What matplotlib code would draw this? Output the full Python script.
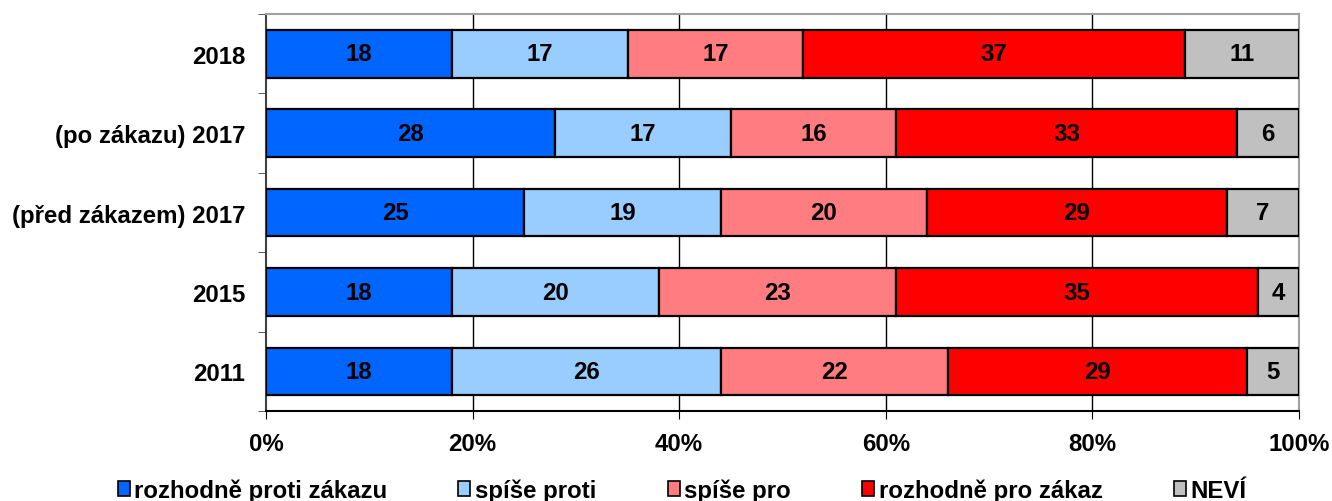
import numpy as np
import matplotlib
matplotlib.use('Agg')
import matplotlib.pyplot as plt
from matplotlib.patches import Patch

# --- dados ---
kategorie = ['2018', '(po zákazu) 2017', '(před zákazem) 2017', '2015', '2011']
serie = ['rozhodně proti zákazu', 'spíše proti', 'spíše pro', 'rozhodně pro zákaz', 'NEVÍ']
rozhodne_proti = [18, 28, 25, 18, 18]
spise_proti = [17, 17, 19, 20, 26]
spise_pro = [17, 16, 20, 23, 22]
rozhodne_pro = [37, 33, 29, 35, 29]
nevi = [11, 6, 7, 4, 5]
barvy = ['#0066FF', '#99CCFF', '#FF7C80', '#FF0000', '#C0C0C0']

hodnoty = [rozhodne_proti, spise_proti, spise_pro, rozhodne_pro, nevi]

plt.rcParams['font.family'] = ['Liberation Sans', 'DejaVu Sans']
plt.rcParams['font.weight'] = 'bold'
fs = 17.3

fig = plt.figure(figsize=(13.32, 5.02), dpi=100)
ax = fig.add_axes([0.1997, 0.179, 0.9752 - 0.1997, 0.970 - 0.179])

y = np.arange(len(kategorie))
vlevo = np.zeros(len(kategorie))
for vals, barva in zip(hodnoty, barvy):
    vals = np.array(vals, dtype=float)
    ax.barh(y, vals, left=vlevo, height=0.6, color=barva, edgecolor='black',
            linewidth=1.6, zorder=3)
    for yi, l, v in zip(y, vlevo, vals):
        ax.text(l + v / 2, yi, f'{int(v)}', ha='center', va='center',
                fontsize=fs, fontweight='bold', zorder=4)
    vlevo += vals

ax.set_xlim(0, 100)
ax.set_ylim(len(kategorie) - 0.5, -0.5)
ax.set_xticks(np.arange(0, 101, 20))
ax.set_xticklabels([f'{t}%' for t in range(0, 101, 20)], fontsize=fs, fontweight='bold')
ax.set_yticks(y)
ax.set_yticklabels(kategorie, fontsize=fs, fontweight='bold')
ax.set_yticks(np.arange(-0.5, len(kategorie)), minor=True)
ax.tick_params(axis='y', which='major', length=0, pad=15)
ax.tick_params(axis='y', which='minor', length=6, color='#404040')
ax.tick_params(axis='x', which='major', length=6, pad=9, color='black')

for xg in [20, 40, 60, 80]:
    ax.axvline(xg, color='black', linewidth=1, zorder=1)

ax.spines['top'].set_color('#A0A0A0')
ax.spines['right'].set_color('#A0A0A0')
ax.spines['left'].set_color('#404040')
ax.spines['bottom'].set_color('black')
for s in ax.spines.values():
    s.set_linewidth(1.5)

handles = [Patch(facecolor=c, edgecolor='black', linewidth=1.2) for c in barvy]
fig.legend(handles, serie, loc='lower center', bbox_to_anchor=(0.512, -0.045), ncol=5,
           frameon=False, fontsize=fs, handlelength=0.5, handleheight=0.62,
           handletextpad=0.2, columnspacing=2.95)

fig.savefig('out.png', dpi=100)
